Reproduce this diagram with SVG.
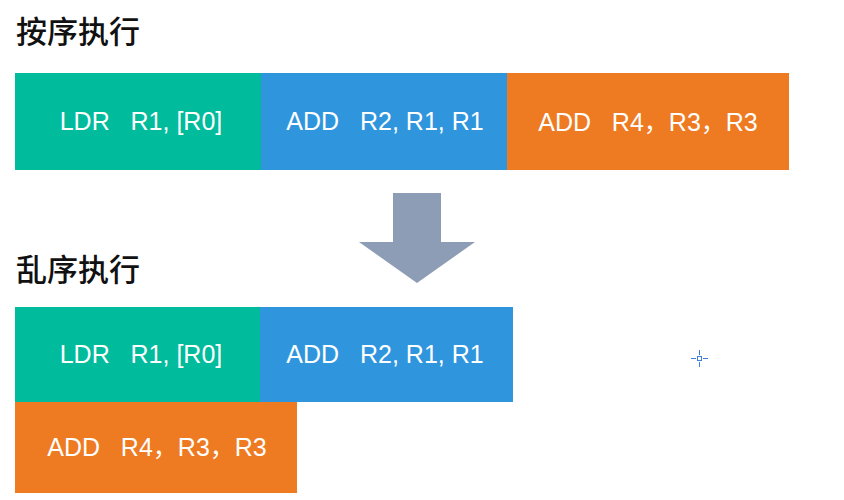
<svg xmlns="http://www.w3.org/2000/svg" width="844" height="500" viewBox="0 0 844 500">
<style>
.title{font-family:"Noto Sans CJK SC","Noto Sans CJK TC",sans-serif;font-size:31px;fill:#111;font-weight:500}
.lbl{font-family:"Liberation Sans","Noto Sans CJK SC",sans-serif;font-size:25px;fill:#fff;text-anchor:middle;white-space:pre}
.g{fill:#00bc9c}
.b{fill:#2f96de}
.o{fill:#ee7b22}
</style>
<rect width="844" height="500" fill="#fff"/>
<text class="title" x="16" y="43">按序执行</text>
<text class="title" x="16" y="281">乱序执行</text>
<g id="top-ldr"><rect class="g" x="15" y="73" width="247" height="97"/><text class="lbl" x="141" y="130">LDR   R1, [R0]</text></g>
<g id="top-add1"><rect class="b" x="261" y="73" width="246" height="97"/><text class="lbl" x="385" y="130">ADD   R2, R1, R1</text></g>
<g id="top-add2"><rect class="o" x="507" y="73" width="282" height="97"/><text class="lbl" x="648" y="131">ADD   R4，R3，R3</text></g>
<g id="arrow"><polygon points="393,193 441,193 441,242 475,242 417,283 359,242 393,242" fill="#8d9db5"/></g>
<g id="bot-ldr"><rect class="g" x="15" y="307" width="246" height="95"/><text class="lbl" x="141" y="363">LDR   R1, [R0]</text></g>
<g id="bot-add1"><rect class="b" x="260" y="307" width="253" height="95"/><text class="lbl" x="385" y="363">ADD   R2, R1, R1</text></g>
<g id="bot-add2"><rect class="o" x="15" y="402" width="282" height="91"/><text class="lbl" x="157" y="456">ADD   R4，R3，R3</text></g>
<g id="cursor" stroke="#3d80dc" stroke-width="1" fill="none">
<rect x="697.5" y="356.5" width="4" height="4"/>
<line x1="691" y1="358.5" x2="696" y2="358.5"/><line x1="703" y1="358.5" x2="708" y2="358.5"/>
<line x1="699.5" y1="350" x2="699.5" y2="355"/><line x1="699.5" y1="362" x2="699.5" y2="367"/>
</g>
</svg>
